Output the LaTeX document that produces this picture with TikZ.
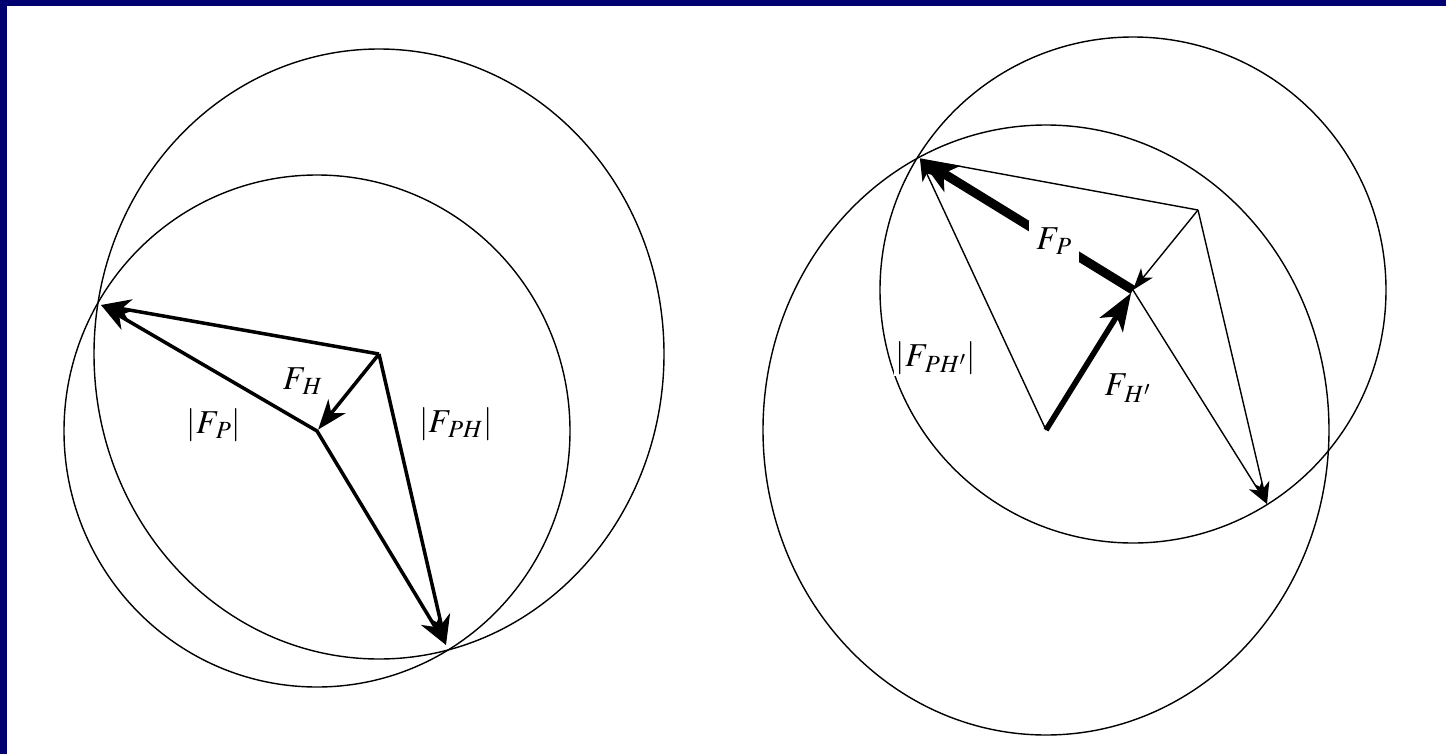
\documentclass[tikz,border=0pt]{standalone}
\usepackage{amsmath,amssymb}
\usepackage{mathptmx}
\usetikzlibrary{arrows.meta}
\definecolor{frameblue}{RGB}{0,0,112}

\begin{document}
\begin{tikzpicture}[
  x=0.2mm, y=-0.2mm,
  font=\fontsize{19}{22}\selectfont,
  circ/.style={line width=0.8pt},
  thinvec/.style={line width=0.8pt, -{Stealth[length=4.4mm,width=3mm,inset=1.2mm]}},
  boldvec/.style={line width=2pt, line join=round, -{Stealth[length=6mm,width=4.4mm,inset=1.8mm]}},
  bothvec/.style={line width=2pt, line join=round, {Stealth[length=6mm,width=4.4mm,inset=1.8mm]}-{Stealth[length=6mm,width=4.4mm,inset=1.8mm]}},
  midvec/.style={line width=3.2pt, -{Stealth[length=7.5mm,width=5.4mm,inset=2mm]}},
  heavyvec/.style={line width=5.2pt, -{Stealth[length=7.5mm,width=6mm,inset=2mm]}},
  cover/.style={fill=white, inner sep=1.4mm},
  lbl/.style={inner sep=1pt}
]

% ----- Page frame
\useasboundingbox (0,0) rectangle (1446,754);
\fill[white] (0,0) rectangle (1446,754);
\fill[frameblue] (0,0) rectangle (1446,6);
\fill[frameblue] (0,0) rectangle (7,754);

% ----- Left construction
\coordinate (cPH) at (379,354);
\coordinate (cP)  at (317,431);
\coordinate (solA) at (101,305);
\coordinate (solB) at (446,645);

\draw[circ] (cPH) ellipse [x radius=285, y radius=305];
\draw[circ] (cP) ellipse [x radius=253, y radius=256];

\draw[boldvec] (cPH) -- (solA);
\draw[boldvec] (cPH) -- (solB);
\draw[bothvec] (solA) -- (cP) -- (solB);
\draw[boldvec, shorten >=1pt] (cPH) -- (cP);

\node[lbl] at (303,381) (lFH)  {$F_{\,H}$};
\node[lbl] at (214,425) (lFP)  {$|F_{\,P}|$};
\node[lbl] at (456,424) (lFPH) {$|F_{\,PH}|$};

% ----- Right construction
\coordinate (solC) at (920,159);
\coordinate (aux)  at (1198,210);
\coordinate (cP2)  at (1133,290);
\coordinate (cPH2) at (1046,430);
\coordinate (solD) at (1267,504);

\draw[circ] (cP2) circle [radius=253];
\draw[circ] (cPH2) ellipse [x radius=283, y radius=305];

\draw[circ] (aux) -- (solC);
\draw[thinvec] (cPH2) -- (solC);
\draw[thinvec] (aux) -- (cP2);
\draw[thinvec] (aux) -- (solD);
\draw[thinvec] (cP2) -- (solD);
\draw[midvec, shorten >=2pt] (cPH2) -- (cP2);
\draw[heavyvec] (cP2) -- (solC) node[cover, pos=0.37] (lFP2) {$F_{\,P}$};

\node[fill=white, inner sep=1pt] at (936,358) (lFPH2) {$|F_{\,PH'}|$};
\node[lbl] at (1128,388) (lFH2) {$F_{\,H'}$};

\end{tikzpicture}
\end{document}
